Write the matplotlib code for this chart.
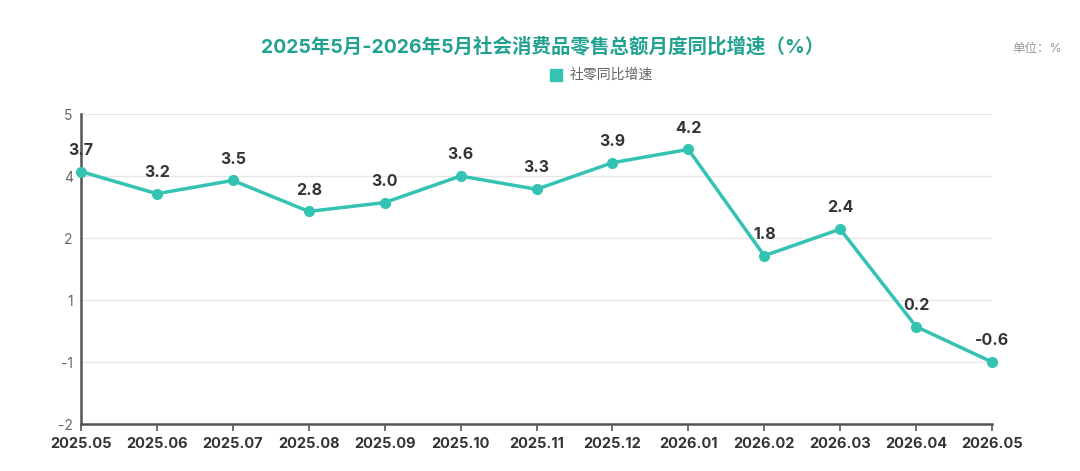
import matplotlib
matplotlib.use("Agg")
import matplotlib.pyplot as plt
import numpy as np

plt.rcParams['font.family'] = ['Inter', 'Noto Sans CJK SC', 'DejaVu Sans']

months = ["2025.05", "2025.06", "2025.07", "2025.08", "2025.09", "2025.10", "2025.11",
          "2025.12", "2026.01", "2026.02", "2026.03", "2026.04", "2026.05"]
growth = [3.7, 3.2, 3.5, 2.8, 3.0, 3.6, 3.3, 3.9, 4.2, 1.8, 2.4, 0.2, -0.6]
y_min, y_max = -2, 5
n_yticks = 6

title = "2025年5月-2026年5月社会消费品零售总额月度同比增速（%）"
series_name = "社零同比增速"
unit_text = "单位：%"

line_color = "#34C3B3"
title_color = "#22A190"

fig = plt.figure(figsize=(10.8, 4.71), dpi=100)
ax = fig.add_axes([81/1080, 1-424/471, (992-81)/1080, (424-114)/471])

x = np.arange(len(months))
ax.plot(x, growth, color=line_color, lw=2.5, marker='o', ms=7, zorder=3, clip_on=False)
for xi, v in zip(x, growth):
    ax.annotate(f"{v:.1f}", (xi, v), xytext=(0, 10), textcoords='offset points',
                ha='center', va='bottom', fontsize=11.5, fontweight='bold', color='#333333')

ax.set_xlim(0, len(months)-1)
ax.set_ylim(y_min, y_max)
yt = np.linspace(y_max, y_min, n_yticks)
ax.set_yticks(yt)
ax.set_yticklabels([f"{v:.0f}" for v in yt])
ax.set_xticks(x)
ax.set_xticklabels(months, fontsize=10.5, fontweight='bold', color='#333333')
ax.tick_params(axis='y', length=0, labelsize=10, labelcolor='#666666', pad=6)
ax.tick_params(axis='x', length=5, width=1.2, color='#555555', pad=4)
ax.grid(axis='y', color='#E6E6E6', lw=1)
ax.set_axisbelow(True)
for s in ['top', 'right']:
    ax.spines[s].set_visible(False)
for s in ['left', 'bottom']:
    ax.spines[s].set_color('#555555')
    ax.spines[s].set_linewidth(1.8)

fig.text(543/1080, 1-47/471, title, ha='center', va='center', fontsize=14,
         fontweight='bold', color=title_color)
fig.text(1062/1080, 1-49/471, unit_text, ha='right', va='center', fontsize=9, color='#999999')
fig.patches.append(plt.Rectangle((550/1080, 1-81/471), 12/1080, 12/471, transform=fig.transFigure,
                                 color=line_color))
fig.text(570/1080, 1-75/471, series_name, ha='left', va='center', fontsize=10, color='#666666')

fig.savefig("out.png", dpi=100)
